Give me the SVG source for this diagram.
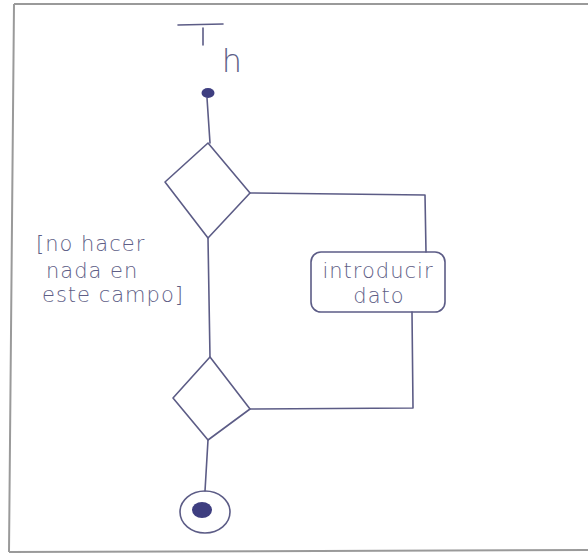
<svg xmlns="http://www.w3.org/2000/svg" width="588" height="557" viewBox="0 0 588 557">
<style>
.ln{fill:none;stroke:#5c5c86;stroke-width:1.6;stroke-linecap:round;stroke-linejoin:round}
.tx{font-family:"DejaVu Sans","Liberation Sans",sans-serif;font-weight:300;fill:#5e5e86;font-size:21px;letter-spacing:1px}
.frame{fill:none;stroke:#9a9a9a;stroke-width:2}
</style>
<rect width="588" height="557" fill="#ffffff"/>
<path class="frame" d="M14,4 L588,4 M14,4 L9,552 M9,552 L588,550"/>
<g id="title">
<path class="ln" d="M178,25 L223,24 M203,28 L203,45"/>
<text class="tx" x="232" y="72" text-anchor="middle" style="font-size:32px;letter-spacing:0">h</text>
</g>
<g id="connectors">
<path class="ln" d="M207,98 L210,143"/>
<path class="ln" d="M250,193 L425,195 L426,252"/>
<path class="ln" d="M208,238 L210,357"/>
<path class="ln" d="M412,312 L413,408 L250,409"/>
<path class="ln" d="M208,440 L205,491"/>
</g>
<g id="start">
<ellipse cx="208" cy="93" rx="6.5" ry="5" fill="#3e3e80"/>
</g>
<g id="decision1">
<path class="ln" d="M208,143 L250,193 L208,238 L165,182 Z"/>
</g>
<g id="guard">
<text class="tx" x="36" y="251">[no hacer</text>
<text class="tx" x="46" y="278">nada en</text>
<text class="tx" x="42" y="302">este campo]</text>
</g>
<g id="action">
<rect class="ln" x="311" y="252" width="134" height="60" rx="10"/>
<text class="tx" x="378" y="278" text-anchor="middle">introducir</text>
<text class="tx" x="379" y="303" text-anchor="middle">dato</text>
</g>
<g id="decision2">
<path class="ln" d="M210,357 L250,409 L208,440 L173,398 Z"/>
</g>
<g id="end">
<ellipse class="ln" cx="205" cy="512" rx="25" ry="21"/>
<ellipse cx="202" cy="510" rx="10" ry="8" fill="#3e3e80"/>
</g>
</svg>
